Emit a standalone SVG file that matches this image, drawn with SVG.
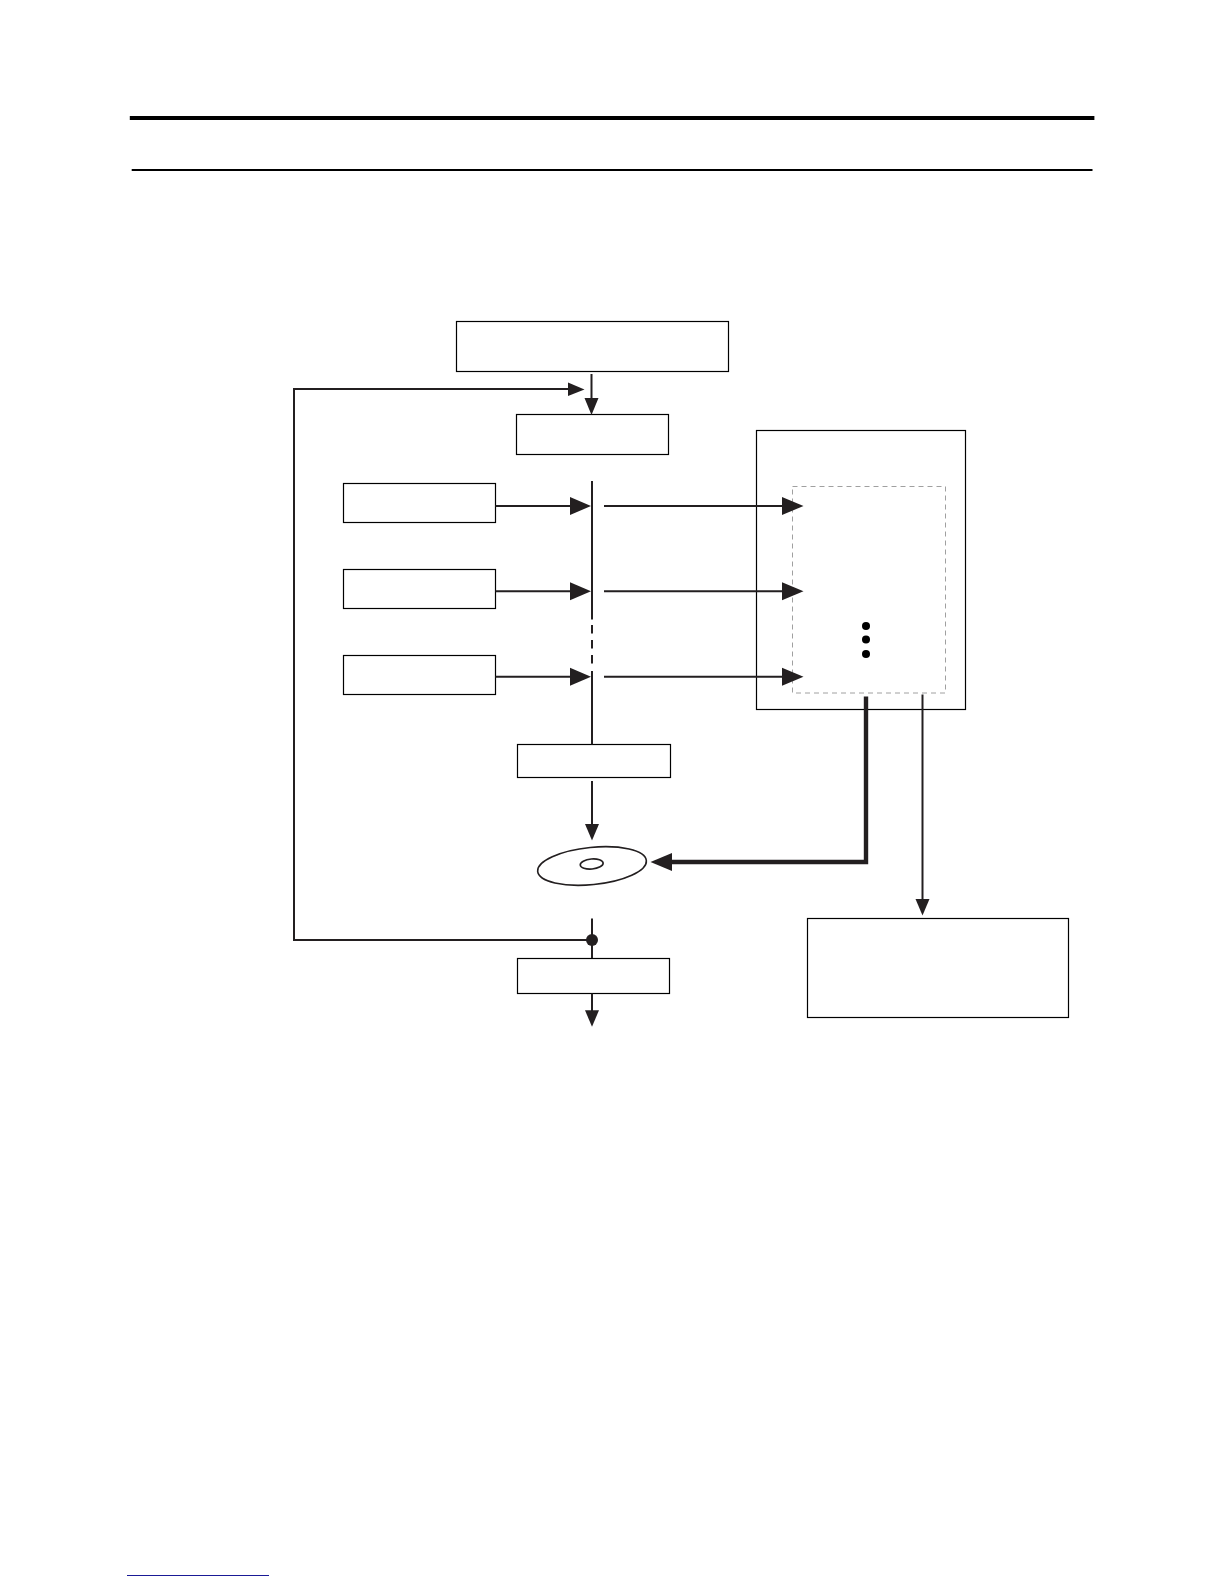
<svg xmlns="http://www.w3.org/2000/svg" width="1224" height="1584" viewBox="0 0 1224 1584">
<style>
.box{fill:#fff;stroke:#000;stroke-width:1.2}
.ln{fill:none;stroke:#231f20;stroke-width:2}
.thick{fill:none;stroke:#231f20;stroke-width:4.4}
.hd{fill:#231f20;stroke:none}
.disc{fill:#fff;stroke:#231f20;stroke-width:1.6}
.dot{fill:#000}
</style>
<rect width="1224" height="1584" fill="#fff"/>
<g id="rules">
<line x1="129.8" y1="118" x2="1094.4" y2="118" stroke="#000" stroke-width="4.2"/>
<line x1="131.7" y1="170" x2="1092.5" y2="170" stroke="#000" stroke-width="2"/>
<line x1="127" y1="1575.5" x2="269" y2="1575.5" stroke="#1a1a96" stroke-width="1"/>
</g>
<g id="node-start"><rect class="box" x="456.5" y="321.5" width="272" height="50"/></g>
<g id="node-step"><rect class="box" x="516.5" y="414.5" width="152" height="40"/></g>
<g id="node-input1"><rect class="box" x="343.5" y="483.5" width="152" height="39"/></g>
<g id="node-input2"><rect class="box" x="343.5" y="569.5" width="152" height="39"/></g>
<g id="node-input3"><rect class="box" x="343.5" y="655.5" width="152" height="39"/></g>
<g id="node-memory">
<rect class="box" x="756.5" y="430.5" width="209" height="279"/>
<rect x="792.5" y="486.5" width="153" height="206.5" fill="#fff" stroke="#888" stroke-width="0.8" stroke-dasharray="5 4"/>
<circle class="dot" cx="866" cy="626" r="4"/>
<circle class="dot" cx="866" cy="639.5" r="4"/>
<circle class="dot" cx="866" cy="654" r="4"/>
</g>
<g id="node-middle"><rect class="box" x="517.5" y="744.5" width="153" height="33"/></g>
<g id="node-disc">
<ellipse class="disc" cx="592" cy="866" rx="54.6" ry="18.6" transform="rotate(-5.7 592 866)"/>
<ellipse class="disc" cx="591.7" cy="864" rx="11.5" ry="5" transform="rotate(-5 591.7 864)"/>
</g>
<g id="node-bottom"><rect class="box" x="517.5" y="958.5" width="152" height="35"/></g>
<g id="node-output"><rect class="box" x="807.5" y="918.5" width="261" height="99"/></g>
<g id="connectors">
<path class="ln" d="M591.5 374V400"/>
<polygon class="hd" points="584.5,398 598.5,398 591.5,415"/>
<path class="ln" d="M592 940H294V389H570"/>
<polygon class="hd" points="568,382.5 584.5,389.5 568,396"/>
<path class="ln" d="M592 481V619.5M592 625V633.5M592 640V648.5M592 655V663.5M592 671V744.5"/>
<path class="ln" d="M495.5 506H572M495.5 591.3H572M495.5 676.7H572"/>
<polygon class="hd" points="570,497 591,506 570,515"/>
<polygon class="hd" points="570,582.3 591,591.3 570,600.3"/>
<polygon class="hd" points="570,667.7 591,676.7 570,685.7"/>
<path class="ln" d="M604 506H784M604 591.3H784M604 676.7H784"/>
<polygon class="hd" points="782,497 803.5,506 782,515"/>
<polygon class="hd" points="782,582.3 803.5,591.3 782,600.3"/>
<polygon class="hd" points="782,667.7 803.5,676.7 782,685.7"/>
<path class="ln" d="M592 781V826"/>
<polygon class="hd" points="585,824 599,824 592,840.5"/>
<path class="thick" d="M866 696.5V862H670"/>
<polygon class="hd" points="672,853 650.5,862 672,871"/>
<path class="ln" d="M922.5 694.5V901"/>
<polygon class="hd" points="915.5,899 929.5,899 922.5,915.5"/>
<path class="ln" d="M592 918.5V958"/>
<circle class="hd" cx="592" cy="940" r="6"/>
<path class="ln" d="M592 993.5V1012"/>
<polygon class="hd" points="585,1010.3 599,1010.3 592,1026.7"/>
</g>
</svg>
